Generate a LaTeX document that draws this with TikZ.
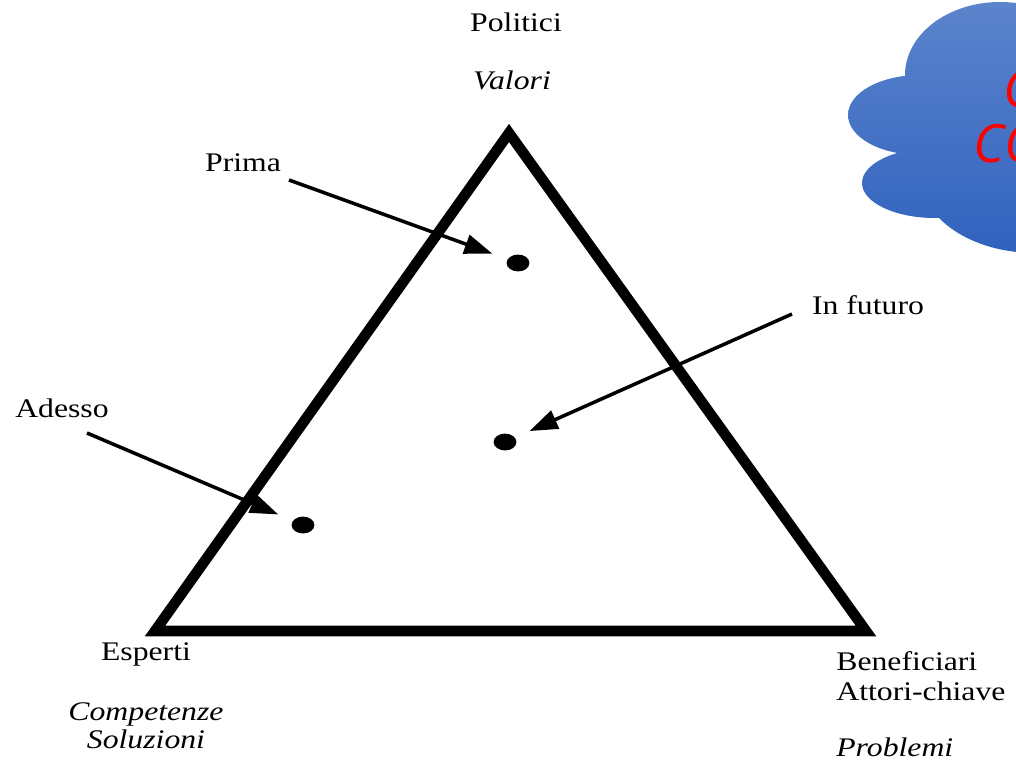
\documentclass[tikz,border=0pt]{standalone}
\usepackage{fontspec}
\setmainfont{Liberation Serif}[FakeStretch=1.18]
\newfontfamily\cloudfont{Open Sans}
\usetikzlibrary{positioning,arrows.meta,shapes.geometric}

\begin{document}
\begin{tikzpicture}[
	x=0.02cm, y=-0.02cm,
	label/.style={
		inner sep=0pt,
		font=\fontsize{15.3}{17}\selectfont,
	},
	slanted/.style={
		label,
		font=\fontsize{15.3}{16}\selectfont\itshape,
		align=center,
	},
	dot/.style={
		shape=ellipse,
		fill=black,
		inner sep=0pt,
		minimum width=13pt,
		minimum height=9.6pt,
	},
	frame/.style={
		line width=6pt,
		line join=miter,
	},
	pointer/.style={
		-{Triangle[length=16pt,width=11pt]},
		line width=2pt,
		shorten >=9pt,
	},
	cloudtext/.style={
		text=red,
		inner sep=0pt,
		anchor=base west,
		font=\cloudfont\itshape\fontsize{30}{30}\selectfont,
	},
]
% fix the page to the reference size
\useasboundingbox (0,0) rectangle (1016,760);

% the cloud in the corner
\shade[top color={rgb,255:red,92;green,132;blue,204}, bottom color={rgb,255:red,48;green,98;blue,190}]
	(1000,75) ellipse [x radius=95, y radius=73]
	(920,115) ellipse [x radius=72, y radius=40]
	(935,183) ellipse [x radius=73, y radius=35]
	(1035,175) ellipse [x radius=115, y radius=78];
\node (cloud1) [cloudtext] at (1003,108) {C};
\node (cloud2) [cloudtext] at (973,163) {CO};

% the triangle
\coordinate (top) at (509,133);
\coordinate (left) at (155,631);
\coordinate (right) at (866,631);
\draw[frame] (top) -- (left) -- (right) -- cycle;

% corner labels
\node (politici) [label] at (516,22) {Politici};
\node (valori) [slanted] at (512,80) {Valori};
\node (esperti) [label] at (146,654) {Esperti};
\node (competenze) [slanted] at (146,726) {Competenze\\Soluzioni};
\node (beneficiari) [label, anchor=north west, align=left] at (836,651) {Beneficiari\\Attori-chiave};
\node (problemi) [slanted, anchor=north west] at (836,737) {Problemi};

% the three positions
\node (dot prima) [dot] at (518,263) {};
\node (dot futuro) [dot] at (505,442) {};
\node (dot adesso) [dot] at (303,525) {};

\node (prima) [label] at (243,163) {Prima};
\node (futuro) [label] at (868,305) {In futuro};
\node (adesso) [label] at (62,408) {Adesso};

\coordinate (prima tail) at (289,180);
\coordinate (futuro tail) at (792,314);
\coordinate (adesso tail) at (87,433);

\draw[pointer] (prima tail) -- (dot prima);
\draw[pointer] (futuro tail) -- (dot futuro);
\draw[pointer] (adesso tail) -- (dot adesso);
\end{tikzpicture}
\end{document}
